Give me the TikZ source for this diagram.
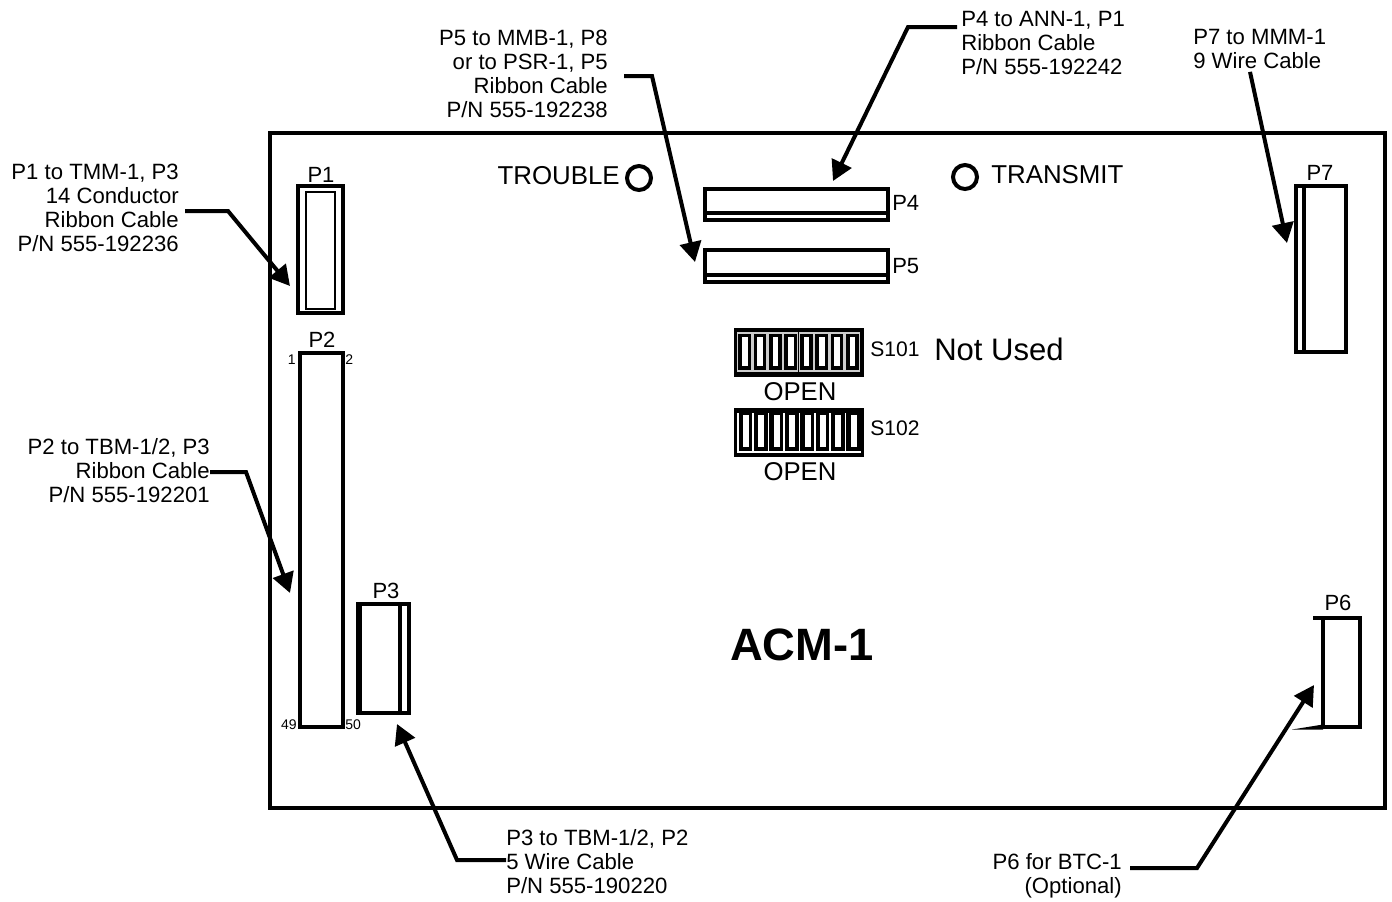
\documentclass[tikz,border=0pt]{standalone}
\usepackage{fontspec}
\setmainfont{Liberation Sans}
\usetikzlibrary{arrows.meta}
\newcommand{\fs}[1]{\fontsize{#1}{18}\selectfont}
\tikzset{
  x=0.75pt,y=-0.75pt,
  lbl/.style={inner sep=0pt,font=\fs{16.6},text depth=0pt},
  rlbl/.style={lbl,align=right,anchor=east},
  llbl/.style={lbl,align=left,anchor=west},
  plabel/.style={inner sep=0pt,font=\fs{16.5}},
  tiny/.style={inner sep=0pt,font=\fs{10.5}},
  cable/.style={line width=3pt,-{Triangle[length=15pt,width=16pt]},line join=miter},
  med/.style={line width=2.7pt,draw=black},
  led/.style={circle,draw=black,line width=3pt,minimum size=18pt,inner sep=0pt},
}
\begin{document}
\begin{tikzpicture}
\useasboundingbox (0,0) rectangle (1392,901);
\draw[line width=3pt] (270,133) rectangle (1385,808);

% connectors' bodies
\node[plabel,anchor=center] (lp1) at (321,175) {P1};
\draw[med] (298,186) rectangle (343,313);
\draw[line width=2.2pt] (306,192) rectangle (335,309);
\coordinate (cp1) at (290,286);

\node[plabel] (lp2) at (322,340) {P2};
\draw[med] (300,353) rectangle (343,727);
\draw[line width=3.5pt] (300,727) -- (343,727);
\coordinate (cp2) at (290,593);
\node[tiny,anchor=east] (n1) at (296,360) {1};
\node[tiny,anchor=west] (n2) at (345,360) {2};
\node[tiny,anchor=east] (n49) at (297,725) {49};
\node[tiny,anchor=west] (n50) at (345,725) {50};

\node[plabel] (lp3) at (386,591) {P3};
\draw[med] (358,604) rectangle (409,713);
\draw[line width=3.5pt] (360,604) -- (360,713);
\draw[med] (400,604) -- (400,713);
\coordinate (cp3) at (397,724);

\node[plabel,anchor=west] (lp4) at (892,203) {P4};
\draw[med] (705,189) rectangle (888,220);
\draw[line width=3.5pt] (705,213) -- (888,213);
\coordinate (cp4) at (833,181);

\node[plabel,anchor=west] (lp5) at (892,266) {P5};
\draw[med] (705,250) rectangle (888,282);
\draw[line width=3.5pt] (705,275) -- (888,275);
\coordinate (cp5) at (695,262);

\node[plabel] (lp7) at (1320,173) {P7};
\draw[med] (1296,186) rectangle (1346,352);
\draw[line width=3.5pt] (1304,186) -- (1304,352);
\coordinate (cp7) at (1287,243);

\node[plabel] (lp6) at (1338,603) {P6};
\draw[med] (1313,618) -- (1360,618) -- (1360,727) -- (1323,727);
\draw[med] (1323,618) -- (1323,727);
\fill (1292,729.5) -- (1323,724.5) -- (1323,729.5) -- cycle;
\coordinate (cp6) at (1314,685);

% LEDs
\node[led] (ledt) at (639,178) {};
\node[led] (ledx) at (965,177) {};
\node[lbl,font=\fs{19.4},anchor=east] (trouble) at (620,175) {TROUBLE};
\node[lbl,font=\fs{19.4},anchor=west] (transmit) at (991,174) {TRANSMIT};

% DIP switches
\fill (734,328) rectangle (864,377);
\foreach \i in {0,...,7}{
  \draw[gray!40,line width=0.9pt] ({737.5+15.4*\i},333) rectangle ({751.5+15.4*\i},371);
  \fill[white] ({742+15.4*\i},337) rectangle ({747.5+15.4*\i},366);
}
\fill (734,408) rectangle (864,457);
\fill[white] (737,451) rectangle (861,453);
\foreach \i in {0,...,7}{
  \fill[white] ({737+15.4*\i},413) rectangle ({738.5+15.4*\i},452);
  \fill[white] ({743+15.4*\i},415) rectangle ({749+15.4*\i},447);
}
\node[tiny,font=\fs{15.8},anchor=west] (s101) at (870,349) {S101};
\node[tiny,font=\fs{15.8},anchor=west] (s102) at (870,428) {S102};
\node[lbl,font=\fs{23.3},anchor=west] (notused) at (934,349) {Not Used};
\node[lbl,font=\fs{19.3}] (open1) at (800,392) {OPEN};
\node[lbl,font=\fs{19.3}] (open2) at (800,472) {OPEN};
\node[lbl,font=\bfseries\fs{34}] (acm) at (802,645) {ACM-1};

% labels
\node[rlbl] (t1) at (179,208) {P1 to TMM-1, P3\\14 Conductor\\Ribbon Cable\\P/N 555-192236};
\node[rlbl] (t2) at (210,470) {P2 to TBM-1/2, P3\\Ribbon Cable\\P/N 555-192201};
\node[llbl] (t3) at (506,861) {P3 to TBM-1/2, P2\\5 Wire Cable\\P/N 555-190220};
\node[llbl] (t4) at (961,43) {P4 to ANN-1, P1\\Ribbon Cable\\P/N 555-192242};
\node[rlbl] (t5) at (608,74) {P5 to MMB-1, P8\\or to PSR-1, P5\\Ribbon Cable\\P/N 555-192238};
\node[rlbl] (t6) at (1122,873) {P6 for BTC-1\\(Optional)};
\node[llbl] (t7) at (1193,49) {P7 to MMM-1\\9 Wire Cable};

% cables
\coordinate (k1) at (228,211);
\coordinate (k2) at (246,472);
\coordinate (k3) at (457,860);
\coordinate (k4) at (908,27);
\coordinate (k5) at (652,76);
\coordinate (k6) at (1197,868);
\draw[cable] (t1.east |- k1) ++(6,0) -- (k1) -- (cp1);
\draw[cable] (t2.east |- k2) -- (k2) -- (cp2);
\draw[cable] (t3.west |- k3) -- (k3) -- (cp3);
\draw[cable] (t4.west |- k4) ++(-4,0) -- (k4) -- (cp4);
\draw[cable] (t5.east |- k5) ++(16,0) -- (k5) -- (cp5);
\draw[cable] (t6.east |- k6) ++(8,0) -- (k6) -- (cp6);
\draw[cable] (t7.south west) ++(57,3) -- (cp7);
\end{tikzpicture}
\end{document}
